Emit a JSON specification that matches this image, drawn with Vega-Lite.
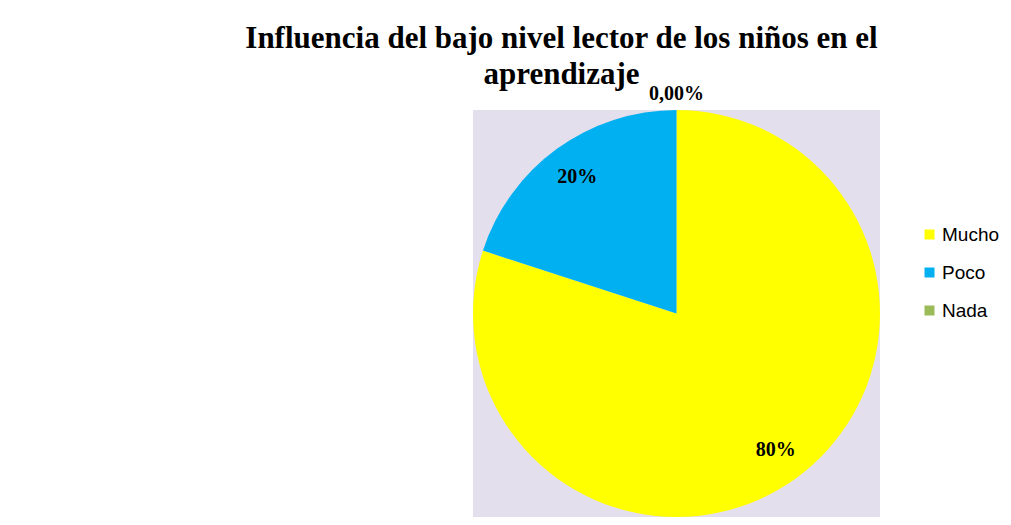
{
  "$schema": "https://vega.github.io/schema/vega-lite/v6.json",
  "autosize": "none",
  "width": 407,
  "height": 407,
  "padding": {"left": 473, "top": 110, "right": 131, "bottom": 8},
  "background": "white",
  "title": {
    "text": ["Influencia del bajo nivel lector de los niños en el", "aprendizaje"],
    "font": "Liberation Serif",
    "fontSize": 31,
    "fontWeight": "bold",
    "color": "black",
    "anchor": "middle",
    "frame": "group",
    "dx": -115,
    "dy": 13,
    "offset": 6,
    "lineHeight": 36
  },
  "data": {
    "values": [
      {"categoria": "Mucho", "valor": 80, "orden": 1, "etiqueta": "80%"},
      {"categoria": "Poco", "valor": 20, "orden": 2, "etiqueta": "20%"},
      {"categoria": "Nada", "valor": 0, "orden": 3, "etiqueta": "0,00%"}
    ]
  },
  "layer": [
    {
      "data": {"values": [{}]},
      "mark": {"type": "rect", "fill": "#E4DFEC"},
      "encoding": {}
    },
    {
      "mark": {"type": "arc", "outerRadius": 203.5},
      "encoding": {
        "theta": {"field": "valor", "type": "quantitative", "stack": true},
        "order": {"field": "orden", "type": "quantitative"},
        "color": {
          "field": "categoria",
          "type": "nominal",
          "sort": ["Mucho", "Poco", "Nada"],
          "scale": {"domain": ["Mucho", "Poco", "Nada"], "range": ["#FFFF00", "#00B0F0", "#9BBB59"]},
          "legend": {
            "title": null,
            "orient": "none",
            "legendX": 447,
            "legendY": 115,
            "padding": 0,
            "symbolType": "square",
            "symbolSize": 100,
            "symbolStrokeWidth": 0,
            "labelFont": "Liberation Sans",
            "labelFontSize": 19,
            "labelColor": "black",
            "labelOffset": 3,
            "rowPadding": 18
          }
        }
      }
    },
    {
      "mark": {"type": "text", "radius": 169, "font": "Liberation Serif", "fontSize": 20, "fontWeight": "bold", "color": "black"},
      "encoding": {
        "theta": {"field": "valor", "type": "quantitative", "stack": true},
        "order": {"field": "orden", "type": "quantitative"},
        "text": {"condition": {"test": "datum.valor > 0", "field": "etiqueta"}, "value": ""}
      }
    },
    {
      "mark": {"type": "text", "radius": 220, "font": "Liberation Serif", "fontSize": 20, "fontWeight": "bold", "color": "black"},
      "encoding": {
        "theta": {"field": "valor", "type": "quantitative", "stack": true},
        "order": {"field": "orden", "type": "quantitative"},
        "text": {"condition": {"test": "datum.valor == 0", "field": "etiqueta"}, "value": ""}
      }
    }
  ],
  "config": {
    "view": {"stroke": null}
  }
}
